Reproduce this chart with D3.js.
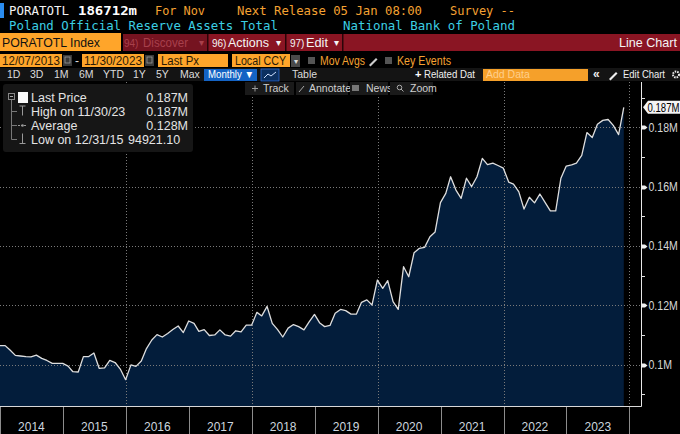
<!DOCTYPE html>
<html><head><meta charset="utf-8">
<script src="https://cdn.jsdelivr.net/npm/d3@7"></script>
<style>
html,body{margin:0;padding:0;background:#000;overflow:hidden;}
svg{display:block;}
</style></head><body>
<svg id="c" width="680" height="434"></svg>
<script>
// ---------- DATA ----------
const startMonth = [2013, 11]; // December 2013 (month-end observations)
const values = [
  106400, 106400, 104900, 103100, 102900, 102700, 102600, 103200, 102100, 101400, 100400, 100400,
  100400, 99500, 97600, 97500, 102700, 102700, 103900, 98700, 98900, 101400, 100700, 98500,
  94921.1, 99900, 99400, 101200, 105400, 108300, 110100, 109300, 110500, 111800, 113000, 110800,
  114700, 113900, 111200, 111800, 109800, 110000, 111700, 110000, 109600, 111400, 111000, 113300,
  113300, 117600, 116400, 119600, 113900, 111800, 109300, 112300, 113500, 112800, 111700, 114400,
  116900, 114000, 112800, 113200, 117300, 118600, 118200, 117000, 117000, 121000, 121800, 120100,
  128500, 125700, 128300, 121200, 118600, 133000, 129600, 137700, 139200, 139500, 143100, 144700,
  154600, 157700, 163300, 158800, 156000, 162800, 160000, 163300, 169500, 167400, 167900, 167100,
  166200, 161500, 160800, 158200, 152400, 156400, 154500, 157500, 154600, 151800, 151800, 162800,
  166900, 167300, 167900, 170500, 178200, 176500, 181000, 182300, 182600, 180600, 177500, 186712
];
const yMajorTicks = [100000, 120000, 140000, 160000, 180000];
const yMinorTicks = [90000, 110000, 130000, 150000, 170000, 190000];
const yearLabels = ["2014","2015","2016","2017","2018","2019","2020","2021","2022","2023"];
const gridYears = [2016, 2018, 2020, 2022, 2024];
const lastLabel = "0.187M";
const legendLabels = ["Last Price", "High on 11/30/23", "Average", "Low on 12/31/15"];
const legendValues = ["0.187M", "0.187M", "0.128M", "94921.10"];

// ---------- SETUP ----------
const svg = d3.select("#c");
const uiFont = "'Liberation Sans', Arial, sans-serif";
const monoFont = "'DejaVu Sans Mono', monospace";
const ORANGE = "#ffa52a";
const ORTXT = "#f5a232";
const CYAN = "#3ccfe4";

const data = values.map((v, i) => ({
  date: d3.utcDay.offset(d3.utcMonth.offset(new Date(Date.UTC(startMonth[0], startMonth[1], 1)), i + 1), -1),
  v
}));

const plotTop = 82, plotBottom = 406, axisX = 641;
const x = d3.scaleUtc().domain([new Date(Date.UTC(2014,0,1)), new Date(Date.UTC(2024,0,1))]).range([0, 629.3]);
const y = d3.scaleLinear().domain([100000, 180000]).range([364.6, 127.2]);

function txt(g, xx, yy, s, o = {}) {
  const t = g.append("text").attr("x", xx).attr("y", yy).text(s)
    .attr("fill", o.fill || "#ddd")
    .attr("font-family", o.font || uiFont)
    .attr("font-size", o.size || 12)
    .attr("font-weight", o.weight || "normal")
    .attr("text-anchor", o.anchor || "start");
  if (o.len) t.attr("textLength", o.len).attr("lengthAdjust", "spacingAndGlyphs");
  return t;
}
function rect(g, x0, y0, w, h, fill, o = {}) {
  const r = g.append("rect").attr("x", x0).attr("y", y0).attr("width", w).attr("height", h).attr("fill", fill);
  if (o.stroke) r.attr("stroke", o.stroke).attr("stroke-width", o.sw || 1);
  if (o.rx) r.attr("rx", o.rx);
  return r;
}

svg.append("rect").attr("width", 680).attr("height", 434).attr("fill", "#000");

// ---------- PLOT ----------
const plot = svg.append("g");
svg.append("clipPath").attr("id", "clip").append("rect")
  .attr("x", 0).attr("y", plotTop).attr("width", axisX).attr("height", plotBottom - plotTop);

const area = d3.area().x(d => x(d.date)).y0(plotBottom).y1(d => y(d.v));
const line = d3.line().x(d => x(d.date)).y(d => y(d.v));

plot.append("path").datum(data).attr("d", area).attr("fill", "#031d3b").attr("clip-path", "url(#clip)");

// grid
plot.selectAll(".hg").data(yMajorTicks).join("line")
  .attr("x1", 0).attr("x2", axisX).attr("y1", d => Math.round(y(d)) + 0.5).attr("y2", d => Math.round(y(d)) + 0.5)
  .attr("stroke", "#7a7a7a").attr("stroke-width", 1).attr("stroke-dasharray", "1,2");
plot.selectAll(".vg").data(gridYears).join("line")
  .attr("x1", d => Math.round(x(new Date(Date.UTC(d,0,1)))) + 0.5)
  .attr("x2", d => Math.round(x(new Date(Date.UTC(d,0,1)))) + 0.5)
  .attr("y1", plotTop).attr("y2", plotBottom)
  .attr("stroke", "#7a7a7a").attr("stroke-width", 1).attr("stroke-dasharray", "1,2");

plot.append("path").datum(data).attr("d", line).attr("fill", "none")
  .attr("stroke", "#dedede").attr("stroke-width", 1.3).attr("stroke-linejoin", "round")
  .attr("clip-path", "url(#clip)");

// axes lines
svg.append("line").attr("x1", 0).attr("x2", axisX + 0.5).attr("y1", plotBottom + 0.5).attr("y2", plotBottom + 0.5)
  .attr("stroke", "#d8d8d8");
svg.append("line").attr("x1", axisX + 0.5).attr("x2", axisX + 0.5).attr("y1", plotTop).attr("y2", plotBottom + 0.5)
  .attr("stroke", "#e8e8e8");

// right axis ticks and labels
const ra = svg.append("g");
ra.selectAll(".mt").data(yMinorTicks).join("line")
  .attr("x1", axisX).attr("x2", axisX + 4)
  .attr("y1", d => Math.round(y(d)) + 0.5).attr("y2", d => Math.round(y(d)) + 0.5)
  .attr("stroke", "#e0e0e0");
ra.selectAll(".MT").data(yMajorTicks).join("path")
  .attr("d", d => { const yy = Math.round(y(d)) + 0.5; return `M${axisX},${yy-2}L${axisX+4},${yy-2}L${axisX+6.5},${yy}L${axisX+4},${yy+2}L${axisX},${yy+2}Z`; })
  .attr("fill", "#eee");
ra.selectAll(".lab").data(yMajorTicks).join("text")
  .attr("x", 0).attr("y", 0)
  .attr("transform", d => `translate(648.5,${y(d) + 4.5}) scale(0.88,1)`)
  .text(d => d3.format("~g")(d / 1e6) + "M")
  .attr("fill", "#d6d6d6").attr("font-family", uiFont).attr("font-size", 12);

// last value label
const lastY = y(values[values.length - 1]);
ra.append("path")
  .attr("d", `M${axisX+2},${lastY}L${axisX+7},${lastY-6.5}L682,${lastY-6.5}L682,${lastY+6.5}L${axisX+7},${lastY+6.5}Z`)
  .attr("fill", "#f4f4f4");
txt(ra, 0, 0, lastLabel, {fill: "#000", size: 12})
  .attr("transform", `translate(647.5,${lastY + 4.5}) scale(0.8,1)`);

// bottom axis
const ba = svg.append("g");
const yearBounds = d3.range(2014, 2025);
ba.selectAll(".sep").data(yearBounds).join("line")
  .attr("x1", d => Math.max(0.5, Math.round(x(new Date(Date.UTC(d,0,1)))) + 0.5))
  .attr("x2", d => Math.max(0.5, Math.round(x(new Date(Date.UTC(d,0,1)))) + 0.5))
  .attr("y1", plotBottom + 1).attr("y2", 434).attr("stroke", "#8c8c8c");
ba.selectAll(".yl").data(yearLabels).join("text")
  .attr("x", d => (x(new Date(Date.UTC(+d,0,1))) + x(new Date(Date.UTC(+d+1,0,1)))) / 2)
  .attr("y", 431).attr("text-anchor", "middle")
  .text(d => d).attr("fill", "#cdd6df").attr("font-family", uiFont).attr("font-size", 12);

// ---------- HEADER ----------
const hd = svg.append("g");
rect(hd, 0, 3, 4, 15, "#2a8cf0");
txt(hd, 9, 15, "PORATOTL", {fill: "#f2f2f2", font: monoFont, size: 12.6, len: 60});
txt(hd, 78, 15, "186712m", {fill: "#ffffff", font: monoFont, size: 12.6, weight: "bold", len: 59});
txt(hd, 155, 15, "For Nov", {fill: ORTXT, font: monoFont, size: 12.6, len: 50});
txt(hd, 237, 15, "Next Release 05 Jan 08:00", {fill: ORTXT, font: monoFont, size: 12.6, len: 185});
txt(hd, 450, 15, "Survey --", {fill: ORTXT, font: monoFont, size: 12.6, len: 65});
txt(hd, 9, 30, "Poland Official Reserve Assets Total", {fill: CYAN, font: monoFont, size: 12.6, len: 269});
txt(hd, 343, 30, "National Bank of Poland", {fill: CYAN, font: monoFont, size: 12.6, len: 172});

// row 3
rect(hd, 0, 33, 121, 18, ORANGE);
txt(hd, 2, 47, "PORATOTL Index", {fill: "#111", size: 13.5, len: 98});
rect(hd, 123, 34, 557, 17, "#8a1523");
rect(hd, 123, 34, 84, 17, "#751320");
rect(hd, 207, 34, 1.5, 17, "#2a0508");
rect(hd, 285, 34, 1.5, 17, "#2a0508");
rect(hd, 342, 34, 1.5, 17, "#2a0508");
txt(hd, 124, 47, "94)", {fill: "#a8404c", size: 10});
txt(hd, 143, 47, "Discover", {fill: "#a8404c", size: 13, len: 45});
txt(hd, 199, 46, "▾", {fill: "#a8404c", size: 10});
txt(hd, 212, 47, "96)", {fill: "#f4f4f4", size: 10});
txt(hd, 228, 47, "Actions", {fill: "#f4f4f4", size: 13, len: 41});
txt(hd, 276, 46, "▾", {fill: "#f4f4f4", size: 10});
txt(hd, 290, 47, "97)", {fill: "#f4f4f4", size: 10});
txt(hd, 306, 47, "Edit", {fill: "#f4f4f4", size: 13, len: 22});
txt(hd, 334, 46, "▾", {fill: "#f4f4f4", size: 10});
txt(hd, 677, 47, "Line Chart", {fill: "#f4f4f4", size: 13, anchor: "end", len: 58});

// row 4
rect(hd, 0, 54, 62, 13, ORANGE);
txt(hd, 2, 65, "12/07/2013", {fill: "#2a1a05", size: 12, len: 58});
rect(hd, 63, 55, 9, 11, "#3a3a3a");
rect(hd, 65, 57, 5, 6, "none", {stroke: "#9a9a9a", sw: 0.8});
txt(hd, 75, 65, "-", {fill: "#ddd", size: 12});
rect(hd, 82, 54, 62, 13, ORANGE);
txt(hd, 84, 65, "11/30/2023", {fill: "#2a1a05", size: 12, len: 58});
rect(hd, 145, 55, 9, 11, "#3a3a3a");
rect(hd, 147, 57, 5, 6, "none", {stroke: "#9a9a9a", sw: 0.8});
rect(hd, 158, 54, 70, 13, ORANGE);
txt(hd, 161, 65, "Last Px", {fill: "#2a1a05", size: 12, len: 38});
rect(hd, 232, 54, 58, 13, ORANGE);
txt(hd, 235, 65, "Local CCY", {fill: "#2a1a05", size: 12, len: 51});
rect(hd, 291, 55, 9, 12, "#4a4a4a");
txt(hd, 295.5, 64, "▾", {fill: "#ddd", size: 8, anchor: "middle"});
rect(hd, 308, 57, 7, 7, "#555");
txt(hd, 320, 65, "Mov Avgs", {fill: ORTXT, size: 12, len: 45});
hd.append("path").attr("d", "M369,65L376,58L377.5,59.5L370.5,66.5Z").attr("fill", "#ccc");
rect(hd, 385, 57, 7, 7, "#555");
txt(hd, 397, 65, "Key Events", {fill: ORTXT, size: 12, len: 54});

// row 5
rect(hd, 0, 68, 680, 13, "#141414");
const rng = [["1D",7],["3D",30],["1M",54],["6M",79],["YTD",103],["1Y",133],["5Y",156],["Max",180]];
rng.forEach(([s, xx]) => txt(hd, xx, 78, s, {fill: "#dcdcdc", size: 10.5}));
rect(hd, 204, 69, 53, 12, "#1463c4");
txt(hd, 208, 78, "Monthly ▼", {fill: "#fff", size: 10.5, len: 46});
rect(hd, 261, 69, 18, 12, "#0c3060", {stroke: "#2a6ad0", sw: 0.8});
hd.append("path").attr("d", "M264,78L268,74L271,76L276,72").attr("stroke", "#cfe0ff").attr("fill", "none").attr("stroke-width", 1);
txt(hd, 292, 78, "Table", {fill: "#dcdcdc", size: 10.5});
txt(hd, 415, 78, "+", {fill: "#fff", size: 11, weight: "bold"});
txt(hd, 424, 78, "Related Dat", {fill: "#f0f0f0", size: 10.5, len: 51});
rect(hd, 483, 69, 105, 12, "#f5a02a");
txt(hd, 486, 78, "Add Data", {fill: "#ffcf8c", size: 10.5});
txt(hd, 593, 78, "«", {fill: "#eee", size: 12, weight: "bold"});
hd.append("path").attr("d", "M609,79L616,72L617.5,73.5L610.5,80.5Z").attr("fill", "#eee");
txt(hd, 623, 78, "Edit Chart", {fill: "#f0f0f0", size: 10.5, len: 42});
hd.append("circle").attr("cx", 676).attr("cy", 74.5).attr("r", 3).attr("fill", "none").attr("stroke", "#eee").attr("stroke-width", 2).attr("stroke-dasharray", "1.5,1");

// row 6 buttons
const btns = [[245, 49, "Track", 263], [296, 52, "Annotate", 309], [350, 38, "News", 366], [390, 43, "Zoom", 410]];
btns.forEach(([bx, bw, s, tx]) => {
  rect(hd, bx, 82, bw, 13, "#1a1a1a");
  txt(hd, tx, 92, s, {fill: "#cfcfcf", size: 10.5});
});
// button icons
hd.append("path").attr("d", "M252,88.5h6M255,85.5v6").attr("stroke", "#999");
hd.append("path").attr("d", "M299,92L304,86").attr("stroke", "#aaa");
rect(hd, 352, 85, 7, 6, "#777");
hd.append("circle").attr("cx", 399.5).attr("cy", 87.5).attr("r", 2.3).attr("fill", "none").attr("stroke", "#aaa");
hd.append("path").attr("d", "M401,89L403.5,91.5").attr("stroke", "#aaa");

// ---------- LEGEND ----------
const lg = svg.append("g");
rect(lg, 3, 84, 190, 68, "#161616", {rx: 3});
const lgY = [101.5, 115.5, 129.5, 143.5];
// tree
lg.append("rect").attr("x", 8.5).attr("y", 93.5).attr("width", 6).attr("height", 6).attr("fill", "none").attr("stroke", "#888");
lg.append("path").attr("d", "M10,96.5h3").attr("stroke", "#aaa");
lg.append("path").attr("d", `M11.5,100V${lgY[3]-4}M11.5,${lgY[1]-4}H17M11.5,${lgY[2]-4}H17M11.5,${lgY[3]-4}H17`).attr("stroke", "#777");
rect(lg, 18, 92, 10, 11, "#fafafa");
// high icon
lg.append("path").attr("d", `M19.5,${lgY[1]-9.5}h6M22.5,${lgY[1]-9.5}V${lgY[1]}`).attr("stroke", "#999");
// average icon
lg.append("path").attr("d", `M18,${lgY[2]-4}h9`).attr("stroke", "#999").attr("stroke-dasharray", "2,1");
lg.append("circle").attr("cx", 22.5).attr("cy", lgY[2]-4).attr("r", 1.3).attr("fill", "#999");
// low icon
lg.append("path").attr("d", `M22.5,${lgY[3]-10}V${lgY[3]}M19.5,${lgY[3]}h6`).attr("stroke", "#999");
legendLabels.forEach((s, i) => txt(lg, 31, lgY[i], s, {fill: "#e4e4e4", size: 12.5}));
legendValues.forEach((s, i) => {
  if (i < 3) txt(lg, 188, lgY[i], s, {fill: "#e4e4e4", size: 12.5, anchor: "end"});
  else txt(lg, 128, lgY[i], s, {fill: "#e4e4e4", size: 12.5});
});
</script>
</body></html>
